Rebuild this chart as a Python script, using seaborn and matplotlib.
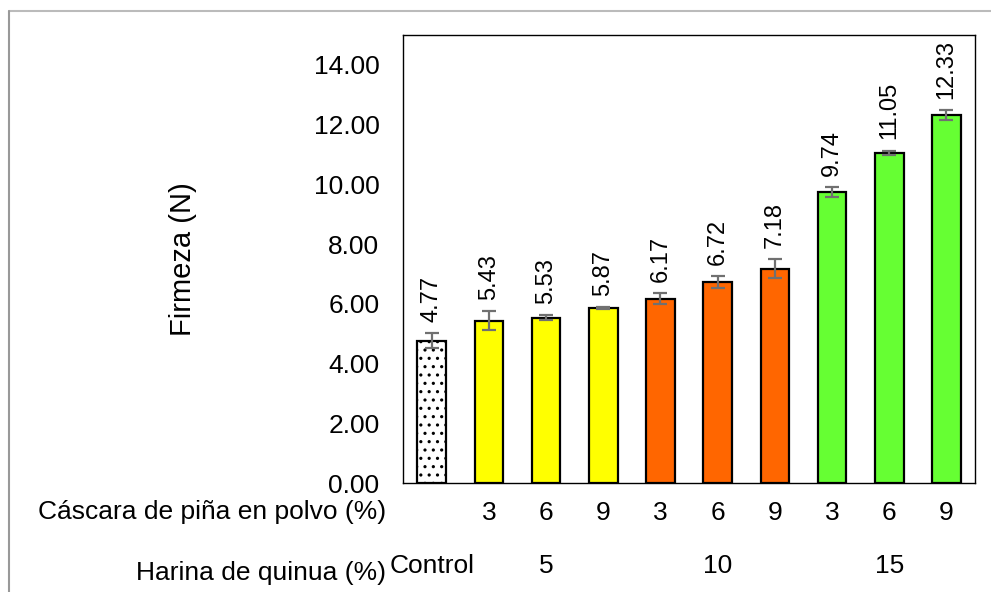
import matplotlib
matplotlib.use("Agg")
import matplotlib.pyplot as plt
import seaborn as sns
import pandas as pd
from matplotlib.lines import Line2D

# data
treatments = ["C", "5-3", "5-6", "5-9", "10-3", "10-6", "10-9", "15-3", "15-6", "15-9"]
firmness = [4.77, 5.43, 5.53, 5.87, 6.17, 6.72, 7.18, 9.74, 11.05, 12.33]
errors = [0.25, 0.32, 0.08, 0.03, 0.18, 0.20, 0.33, 0.18, 0.08, 0.17]
peel_labels = ["", "3", "6", "9", "3", "6", "9", "3", "6", "9"]
quinoa_labels = ["Control", "5", "10", "15"]
quinoa_pos = [0, 2, 5, 8]
bar_colors = ["#FFFFFF", "#FFFF00", "#FFFF00", "#FFFF00", "#FF6600", "#FF6600",
              "#FF6600", "#66FF33", "#66FF33", "#66FF33"]

df = pd.DataFrame({"Tratamiento": treatments, "Firmeza": firmness})

sns.set_style("white")
plt.rcParams["font.family"] = ["Liberation Sans", "DejaVu Sans"]
plt.rcParams["text.color"] = "black"
plt.rcParams["xtick.color"] = "black"
plt.rcParams["ytick.color"] = "black"
plt.rcParams["axes.labelcolor"] = "black"
plt.rcParams["hatch.linewidth"] = 1.1

fig = plt.figure(figsize=(9.91, 5.92), dpi=100)
ax = fig.add_axes([0.4067, 0.1841, 0.5772, 0.7568])

sns.barplot(data=df, x="Tratamiento", y="Firmeza", hue="Tratamiento",
            palette=bar_colors, legend=False, width=0.5, saturation=1,
            edgecolor="black", linewidth=1.6, ax=ax)

# dotted fill for the control bar
ax.patches[0].set_hatch("..")

ax.errorbar(range(len(firmness)), firmness, yerr=errors, fmt="none",
            ecolor="#707070", elinewidth=1.6, capsize=5, capthick=1.6, zorder=5)

for i, (v, e) in enumerate(zip(firmness, errors)):
    ax.annotate(f"{v:.2f}", (i, v + e), xytext=(0, 8), textcoords="offset points",
                rotation=90, ha="center", va="bottom", fontsize=17)

ax.set_ylim(0, 15)
ax.set_xlim(-0.5, 9.5)
ax.set_yticks(range(0, 15, 2))
ax.set_yticklabels([f"{t:.2f}" for t in range(0, 15, 2)], fontsize=19)
ax.set_xticks(range(len(peel_labels)))
ax.set_xticklabels(peel_labels, fontsize=19)
ax.tick_params(axis="y", length=0, pad=17)
ax.tick_params(axis="x", length=0, pad=13)
ax.set_xlabel("")
ax.set_ylabel("Firmeza (N)", fontsize=21)
ax.yaxis.set_label_coords(-0.36, 0.5)

for s in ax.spines.values():
    s.set_visible(True)
    s.set_color("black")
    s.set_linewidth(1.0)

trans = ax.get_xaxis_transform()
ax.text(-0.03, -0.065, "Cáscara de piña en polvo (%)", transform=ax.transAxes,
        ha="right", va="center", fontsize=19)
for p, lab in zip(quinoa_pos, quinoa_labels):
    ax.text(p, -0.185, lab, transform=trans, ha="center", va="center", fontsize=19)
ax.text(-0.03, -0.2, "Harina de quinua (%)", transform=ax.transAxes,
        ha="right", va="center", fontsize=19)

# light frame of the chart area
fig.add_artist(Line2D([9 / 991, 1.0], [1 - 11 / 592, 1 - 11 / 592],
                      transform=fig.transFigure, color="#BBBBBB", lw=1.5))
fig.add_artist(Line2D([9 / 991, 9 / 991], [0.0, 1 - 11 / 592],
                      transform=fig.transFigure, color="#999999", lw=1.5))

fig.savefig("out.png", dpi=100)
